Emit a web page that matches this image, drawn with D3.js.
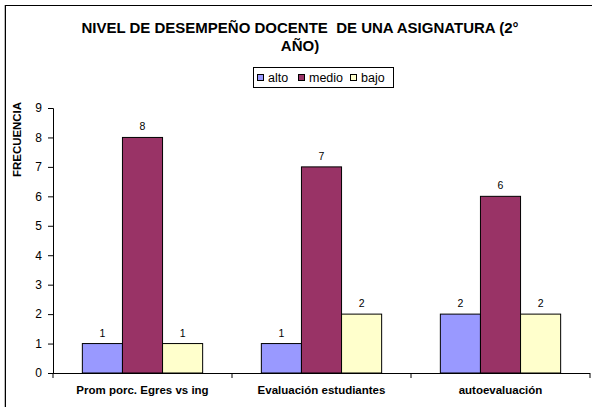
<!DOCTYPE html>
<html><head><meta charset="utf-8">
<script src="https://cdn.jsdelivr.net/npm/d3@7"></script>
<style>body{margin:0;background:#fff}svg{display:block;font-family:"Liberation Sans",Arial,sans-serif}</style>
</head><body>
<svg id="c" width="592" height="407"></svg>
<script>
const categories = ["Prom porc. Egres vs ing", "Evaluación estudiantes", "autoevaluación"];
const seriesNames = ["alto", "medio", "bajo"];
const alto = [1, 1, 2];
const medio = [8, 7, 6];
const bajo = [1, 2, 2];
const yTicks = [0,1,2,3,4,5,6,7,8,9];
const colors = ["#9999FF", "#993366", "#FFFFCC"];
const series = [alto, medio, bajo];

const svg = d3.select("#c");
// frame
svg.append("line").attr("x1",4.5).attr("x2",4.5).attr("y1",5).attr("y2",407).attr("stroke","#bbb");
svg.append("line").attr("x1",5.5).attr("x2",5.5).attr("y1",5).attr("y2",407).attr("stroke","#000");
svg.append("line").attr("x1",5).attr("x2",592).attr("y1",5.5).attr("y2",5.5).attr("stroke","#000");

const x0 = d3.scaleBand().domain(categories).range([53, 590]).paddingInner(0).paddingOuter(0);
const y = d3.scaleLinear().domain([0, 9]).range([373, 108]);
const bw = 40.1;
const groupOffset = (x0.bandwidth() - 3*bw)/2;
const x1 = d3.scaleBand().domain(seriesNames).range([groupOffset, groupOffset + 3*bw]).padding(0);

// bars
categories.forEach((c, ci) => {
  series.forEach((s, si) => {
    const bx = x0(c) + x1(seriesNames[si]);
    svg.append("rect").attr("x", bx).attr("y", y(s[ci])).attr("width", x1.bandwidth()).attr("height", y(0)-y(s[ci]))
      .attr("fill", colors[si]).attr("stroke", "#000").attr("stroke-width", 1);
    svg.append("text").attr("x", bx + x1.bandwidth()/2).attr("y", y(s[ci]) - 7).attr("text-anchor","middle")
      .attr("font-size", 10.5).attr("fill","#000").text(s[ci]);
  });
});

// y axis
const ya = svg.append("g").attr("transform","translate(53,0)")
  .call(d3.axisLeft(y).tickValues(yTicks).tickSize(5).tickPadding(6).tickFormat(d3.format("d")));
ya.select(".domain").attr("stroke","#000");
ya.selectAll("text").attr("font-size", 12).attr("font-family","Liberation Sans, Arial, sans-serif").attr("fill","#000");
ya.selectAll("line").attr("stroke","#000");

// x axis
const xa = svg.append("g").attr("transform","translate(0,373)")
  .call(d3.axisBottom(x0).tickSize(0).tickPadding(13));
xa.select(".domain").remove();
svg.append("line").attr("x1",53).attr("x2",590).attr("y1",373.5).attr("y2",373.5).attr("stroke","#000");
[0,1,2,3].forEach(i => {
  const xx = 53 + i*x0.step();
  svg.append("line").attr("x1",xx).attr("x2",xx).attr("y1",373).attr("y2",378).attr("stroke","#000");
});
xa.selectAll("text").attr("font-size", 11.5).attr("font-weight","bold").attr("font-family","Liberation Sans, Arial, sans-serif").attr("fill","#000");

// y title
svg.append("text").attr("transform","translate(20.5,139.5) rotate(-90)").attr("text-anchor","middle")
  .attr("font-size", 11).attr("font-weight","bold").attr("textLength",75).attr("lengthAdjust","spacingAndGlyphs").text("FRECUENCIA");

// title
svg.append("text").attr("x",300).attr("y",33).attr("text-anchor","middle").attr("font-size",15).attr("font-weight","bold")
  .attr("xml:space","preserve").style("white-space","pre").text("NIVEL DE DESEMPEÑO DOCENTE  DE UNA ASIGNATURA (2°");
svg.append("text").attr("x",300).attr("y",51).attr("text-anchor","middle").attr("font-size",15).attr("font-weight","bold").text("AÑO)");

// legend
const lg = svg.append("g");
lg.append("rect").attr("x",253.5).attr("y",67.5).attr("width",140).attr("height",20).attr("fill","#fff").attr("stroke","#000");
const legX = [257, 298, 350];
seriesNames.forEach((n, i) => {
  lg.append("rect").attr("x",legX[i]+0.5).attr("y",74.5).attr("width",6).attr("height",6).attr("fill",colors[i]).attr("stroke","#000");
  lg.append("text").attr("x",legX[i]+11).attr("y",82).attr("font-size",12.5).text(n);
});
</script>
</body></html>
